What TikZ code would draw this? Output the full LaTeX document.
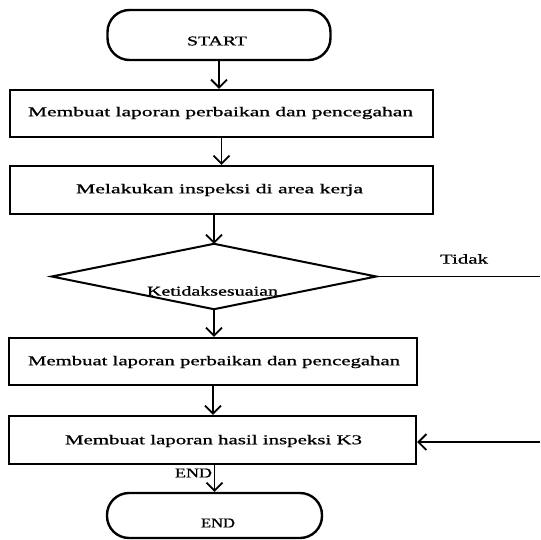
\documentclass[tikz,border=0pt]{standalone}
\usepackage{fontspec}
\setmainfont{Liberation Serif}
\usetikzlibrary{arrows.meta}
\newcommand{\wtxt}[2]{\resizebox{#1pt}{\height}{#2}}
\begin{document}
\begin{tikzpicture}[x=1pt,y=-1pt,
  box/.style={draw,line width=2.4pt,inner sep=0pt},
  term/.style={draw,line width=2.4pt,rounded corners=22pt,inner sep=0pt},
  txt/.style={inner sep=0pt,font=\fontsize{13.5}{15}\selectfont\addfontfeatures{FakeBold=0.8}},
  arr/.style={line width=1.8pt,-{Straight Barb[length=8pt,width=16pt,line width=1.8pt]}},
  ln/.style={line width=1.8pt}]
\useasboundingbox (0,0) rectangle (540,540);
% shapes
\node[term,minimum width=223pt,minimum height=50pt] (start) at (219,35) {};
\node[box,minimum width=423pt,minimum height=47pt] (b1) at (221.5,113.5) {};
\node[box,minimum width=423pt,minimum height=48pt] (b2) at (221.5,190) {};
\node[inner sep=0pt,minimum width=324pt,minimum height=65pt] (d) at (214,276.5) {};
\draw[line width=2pt] (d.west) -- (d.north) -- (d.east) -- (d.south) -- cycle;
\node[box,minimum width=408pt,minimum height=47pt] (b3) at (213,361.5) {};
\node[box,minimum width=407pt,minimum height=48pt] (b4) at (212.5,440) {};
\node[term,minimum width=215pt,minimum height=45pt] (end) at (214.5,515.5) {};
% texts
\node[txt] (tstart) at (217,41) {\wtxt{60}{START}};
\node[txt] (t1) at (220.5,113) {\wtxt{385}{Membuat laporan perbaikan dan pencegahan}};
\node[txt] (t2) at (219.5,190) {\wtxt{287}{Melakukan inspeksi di area kerja}};
\node[txt] (td) at (212.5,291) {\wtxt{131}{Ketidaksesuaian}};
\node[txt] (t3) at (214,362) {\wtxt{372}{Membuat laporan perbaikan dan pencegahan}};
\node[txt] (t4) at (213.5,441) {\wtxt{297}{Membuat laporan hasil inspeksi K3}};
\node[txt] (tend) at (218,523) {\wtxt{34}{END}};
\node[txt] (tendlbl) at (193.5,473) {\wtxt{37}{END}};
\node[txt] (ttidak) at (464,259) {\wtxt{48}{Tidak}};
% connectors
\draw[arr] (start.south) -- (start.south |- b1.north);
\draw[arr] (b1.south) -- (b2.north);
\draw[arr] (d.north |- b2.south) -- (d.north);
\draw[arr] (d.south) -- (d.south |- b3.north);
\draw[arr] (b3.south) -- (b3.south |- b4.north);
\draw[arr] (end.north |- b4.south) -- (end.north);
\coordinate (r1) at (540,276.5);
\draw[ln] (d.east) -- (r1);
\coordinate (r2) at (540,442);
\draw[arr] (r2) -- (r2 -| b4.east);
\end{tikzpicture}
\end{document}
